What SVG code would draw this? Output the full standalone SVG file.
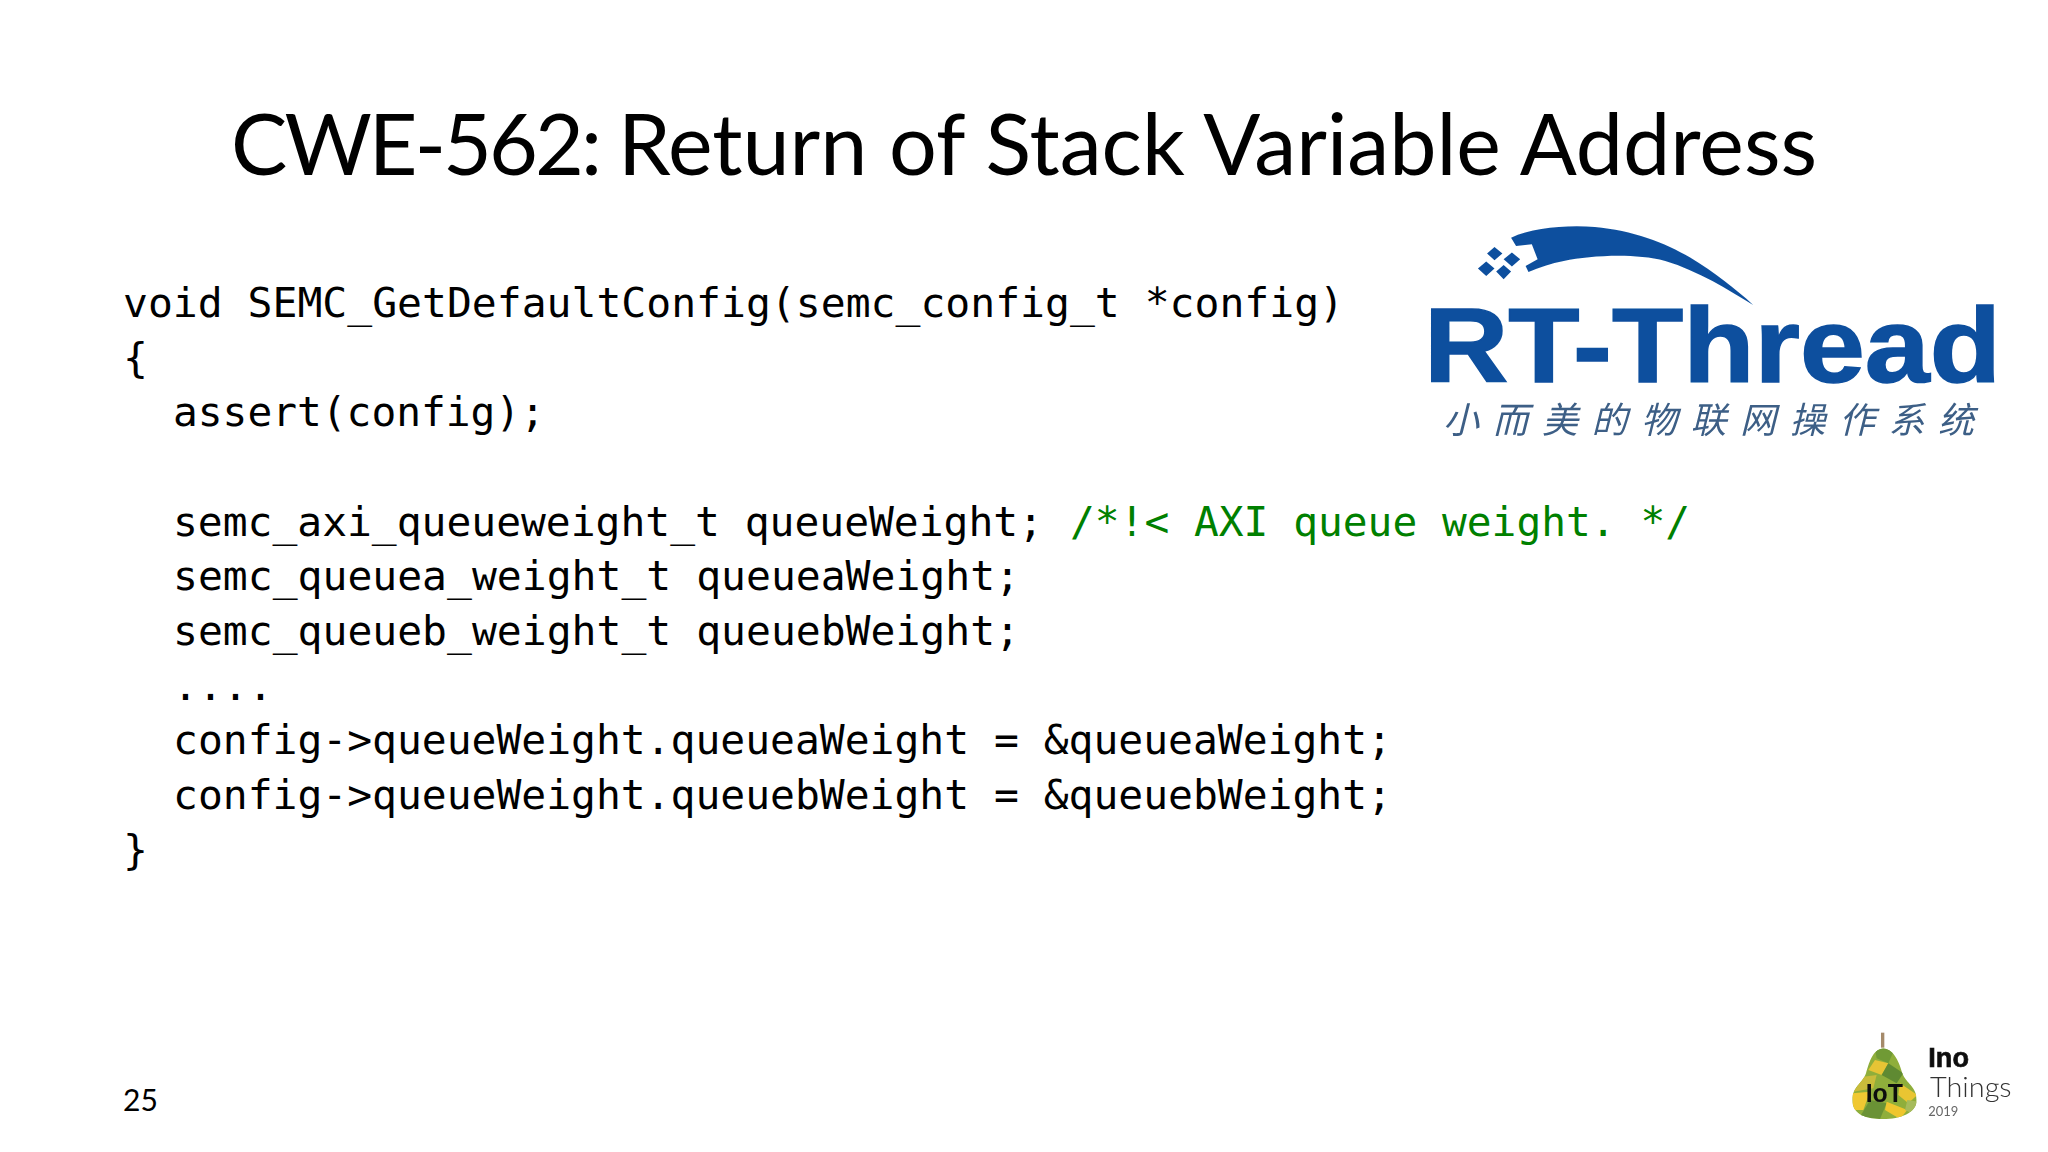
<svg xmlns="http://www.w3.org/2000/svg" width="2048" height="1152" viewBox="0 0 2048 1152">
<style>
.code{font-family:"DejaVu Sans Mono","Liberation Mono",monospace;font-size:41.5px;fill:#000;white-space:pre}
.cm{fill:#008000}
.title{font-family:Lato,"Open Sans",sans-serif;font-weight:400;font-size:86px;fill:#000}
.num{font-family:Lato,"Open Sans",sans-serif;font-size:30px;fill:#000}
.logoblue{fill:#0d4f9e}
</style>
<defs>
<filter id="soft" x="-5%" y="-5%" width="110%" height="110%"><feGaussianBlur stdDeviation="0.7"/></filter>
<clipPath id="pear"><path d="M190 85C225 90 238 130 247 160C258 190 290 200 290 240C290 280 240 297 190 297C140 297 97 285 97 240C97 200 128 190 138 160C148 130 155 90 190 85Z"/></clipPath>
</defs>
<rect width="2048" height="1152" fill="#fff"/>
<g id="title"><text class="title" x="231" y="175" textLength="1586" lengthAdjust="spacingAndGlyphs"><tspan letter-spacing="-3">CWE-562: </tspan>Return of Stack Variable Address</text></g>
<g id="code">
<text class="code" x="123" y="317" textLength="1221" lengthAdjust="spacingAndGlyphs">void SEMC_GetDefaultConfig(semc_config_t *config)</text>
<text class="code" x="123" y="371.6">{</text>
<text class="code" x="173" y="426.3" textLength="372" lengthAdjust="spacingAndGlyphs">assert(config);</text>
<text class="code" x="173" y="535.6" textLength="870" lengthAdjust="spacingAndGlyphs">semc_axi_queueweight_t queueWeight;</text>
<text class="code cm" x="1070" y="535.6" textLength="620" lengthAdjust="spacingAndGlyphs">/*!&lt; AXI queue weight. */</text>
<text class="code" x="173" y="590.2" textLength="847" lengthAdjust="spacingAndGlyphs">semc_queuea_weight_t queueaWeight;</text>
<text class="code" x="173" y="644.9" textLength="847" lengthAdjust="spacingAndGlyphs">semc_queueb_weight_t queuebWeight;</text>
<text class="code" x="173" y="699.5">....</text>
<text class="code" x="173" y="754.2" textLength="1219" lengthAdjust="spacingAndGlyphs">config-&gt;queueWeight.queueaWeight = &amp;queueaWeight;</text>
<text class="code" x="173" y="808.8" textLength="1219" lengthAdjust="spacingAndGlyphs">config-&gt;queueWeight.queuebWeight = &amp;queuebWeight;</text>
<text class="code" x="123" y="863.5">}</text>
</g>
<g id="page-number"><text class="num" x="123" y="1111">25</text></g>
<g id="rt-thread-logo" filter="url(#soft)">
<g transform="translate(1400 201) scale(.4145 .333)">
<path class="logoblue" d="M268 110C320 80 400 72 470 78C560 88 640 125 700 170C760 215 810 265 852 312C790 265 720 210 640 180C560 155 460 165 395 180C365 187 335 200 310 213L303 195L332 175L318 130L280 135Z"/>
<path class="logoblue" d="M228 138L247 158L228 178L210 158ZM270 155L290 175L270 197L250 175ZM208 182L228 203L208 225L188 203ZM250 192L268 212L250 235L232 212Z"/>
</g>
<text x="1424" y="382" font-family="Liberation Sans,sans-serif" font-weight="700" font-size="106" class="logoblue" stroke="#0d4f9e" stroke-width="1.5" textLength="577" lengthAdjust="spacingAndGlyphs">RT-Thread</text>
<text x="1443" y="433" font-family="Noto Sans CJK SC,sans-serif" font-size="36" font-style="italic" fill="#3d5f86" textLength="531" lengthAdjust="spacing">小而美的物联网操作系统</text>
</g>
<g id="inothings-logo" filter="url(#soft)">
<g transform="translate(1820 1020) scale(.3333)">
<rect x="183" y="38" width="10" height="45" fill="#a58a6a"/>
<g clip-path="url(#pear)">
<rect x="90" y="80" width="205" height="220" fill="#8fae3a"/>
<polygon points="165,85 225,85 205,130 170,115" fill="#6f9a35"/>
<polygon points="165,120 205,130 185,165 145,150" fill="#e6c435"/>
<polygon points="205,130 250,160 230,190 185,165" fill="#5f8a30"/>
<polygon points="130,170 170,165 160,205 100,215" fill="#c9bc3a"/>
<polygon points="97,220 150,215 130,270 97,270" fill="#f0c830"/>
<polygon points="240,190 292,225 265,250 235,225" fill="#e9c532"/>
<polygon points="150,240 200,250 180,297 120,290" fill="#6b9234"/>
<polygon points="200,245 262,270 240,297 195,270" fill="#efc62f"/>
<polygon points="262,240 292,245 285,285 255,270" fill="#a6bb5b"/>
</g>
<text x="137" y="247" font-family="Liberation Sans,sans-serif" font-weight="700" font-size="75" fill="#111" textLength="112" lengthAdjust="spacingAndGlyphs">IoT</text>
<text x="325" y="140" font-family="Liberation Sans,sans-serif" font-weight="700" font-size="84" fill="#111" stroke="#111" stroke-width="2" textLength="122" lengthAdjust="spacingAndGlyphs">Ino</text>
<text x="330" y="230" font-family="Lato,sans-serif" font-weight="300" font-size="84" fill="#333" textLength="245" lengthAdjust="spacingAndGlyphs">Things</text>
<text x="325" y="287" font-family="Lato,sans-serif" font-size="38" fill="#666" textLength="90" lengthAdjust="spacingAndGlyphs">2019</text>
</g>
</g>
</svg>
